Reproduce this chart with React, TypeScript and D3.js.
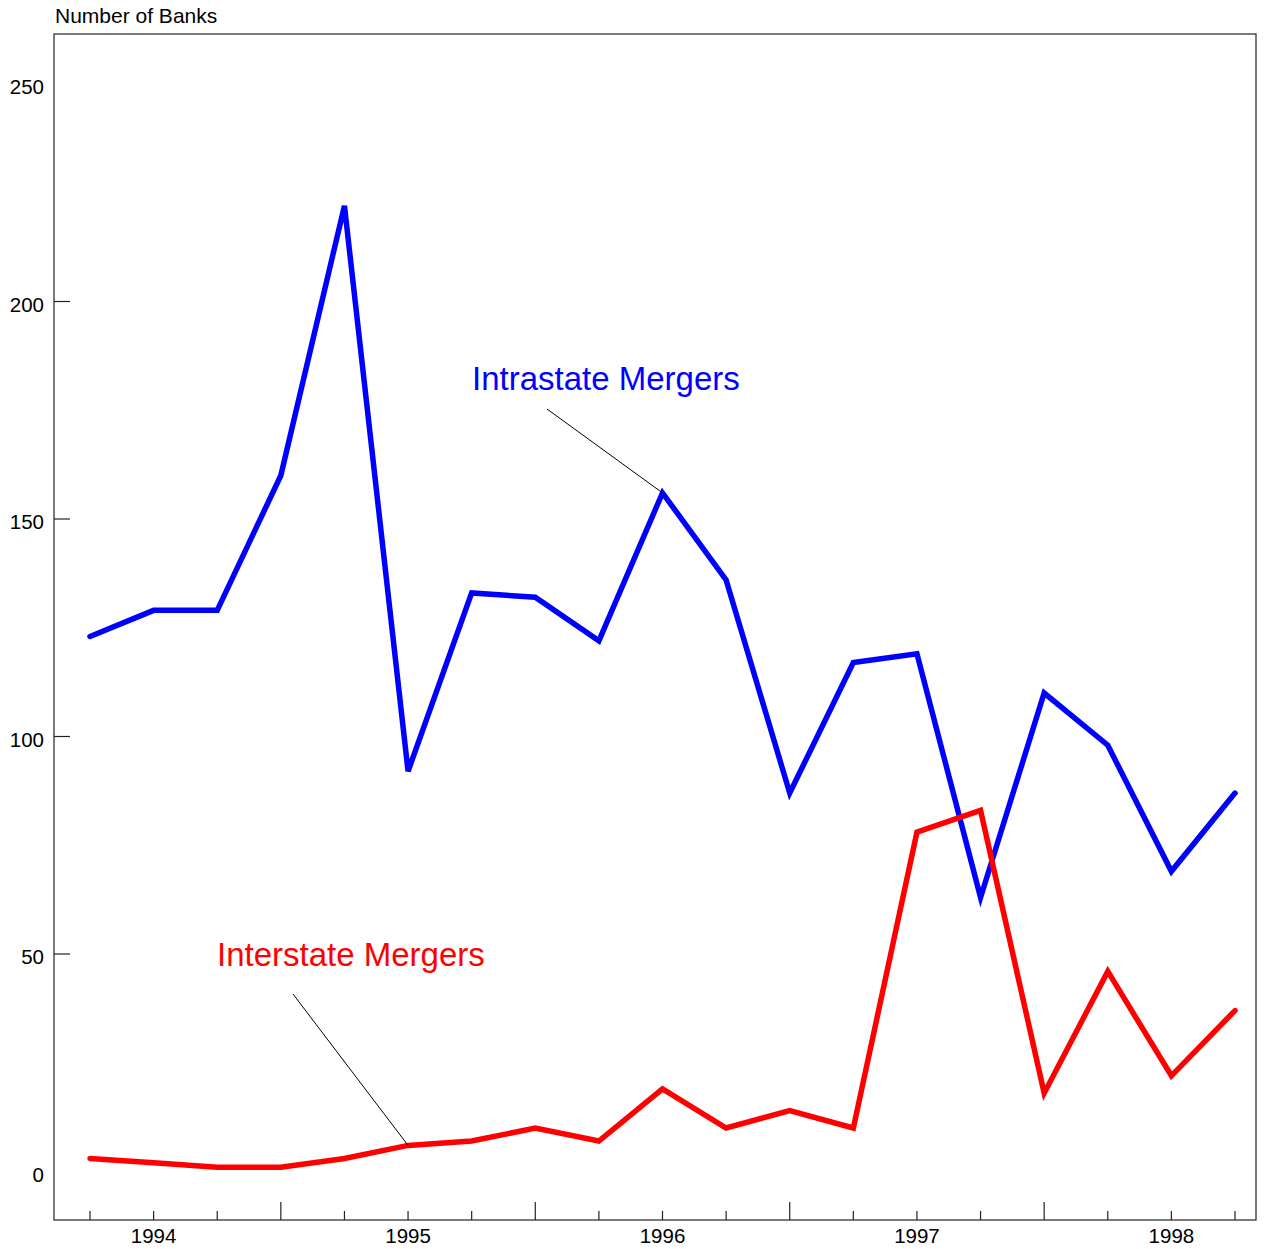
import * as d3 from 'd3';

// quarterly bank merger counts
const quarters = [
  '93Q4', '94Q1', '94Q2', '94Q3', '94Q4', '95Q1', '95Q2', '95Q3', '95Q4', '96Q1',
  '96Q2', '96Q3', '96Q4', '97Q1', '97Q2', '97Q3', '97Q4', '98Q1', '98Q2',
];
const intrastate = [123, 129, 129, 160, 222, 92, 133, 132, 122, 156, 136, 87, 117, 119, 63, 110, 98, 69, 87];
const interstate = [3, 2, 1, 1, 3, 6, 7, 10, 7, 19, 10, 14, 10, 78, 83, 18, 46, 22, 37];
const yearLabels = ['1994', '1995', '1996', '1997', '1998'];
const yearLabelIdx = [1, 5, 9, 13, 17];
const yearBreakIdx = [3, 7, 11, 15];
const yTicks = [0, 50, 100, 150, 200, 250];
const yTickMarks = [50, 100, 150, 200];

const W = 1265;
const H = 1249;
const frame = { left: 54, top: 34, right: 1256, bottom: 1220 };
const font = 'Arial, "Liberation Sans", Helvetica, sans-serif';

const App = () => {
  const x = d3.scaleLinear().domain([0, quarters.length - 1]).range([90, 1235]);
  const y = d3.scaleLinear().domain([0, 250]).range([1171.5, 84]);

  const line = d3.line<number>()
    .x((_, i) => x(i))
    .y(d => y(d));

  // annotation anchors sit on the data points
  const blueAnchor = { x: x(9), y: y(intrastate[9]) };
  const redAnchor = { x: x(5), y: y(interstate[5]) };

  return (
    <svg width={W} height={H} style={{ position: 'absolute', left: 0, top: 0, background: '#fff' }}>
      <rect
        x={frame.left} y={frame.top}
        width={frame.right - frame.left} height={frame.bottom - frame.top}
        fill="none" stroke="#222" strokeWidth={1.2}
      />

      <text x={55} y={23} fontFamily={font} fontSize={21} fill="#000">Number of Banks</text>

      {/* y axis */}
      {yTicks.map(t => (
        <text key={t} x={44} y={y(t) + 5} textAnchor="end" dominantBaseline="middle"
          fontFamily={font} fontSize={20.5} fill="#000">{t}</text>
      ))}
      {yTickMarks.map(t => (
        <line key={t} x1={frame.left} x2={frame.left + 16} y1={y(t)} y2={y(t)} stroke="#222" strokeWidth={1.2} />
      ))}

      {/* x axis */}
      {quarters.map((q, i) => {
        const long = yearBreakIdx.includes(i);
        return (
          <line key={q} x1={x(i)} x2={x(i)} y1={frame.bottom} y2={frame.bottom - (long ? 18 : 9)}
            stroke="#222" strokeWidth={1.2} />
        );
      })}
      {yearLabels.map((lab, k) => (
        <text key={lab} x={x(yearLabelIdx[k])} y={1242.5} textAnchor="middle"
          fontFamily={font} fontSize={20.5} fill="#000">{lab}</text>
      ))}

      {/* series */}
      <path d={line(intrastate) || ''} fill="none" stroke="#0000ff" strokeWidth={5.5}
        strokeLinecap="round" strokeLinejoin="miter" />
      <path d={line(interstate) || ''} fill="none" stroke="#ff0000" strokeWidth={5.5}
        strokeLinecap="round" strokeLinejoin="miter" />

      {/* annotations */}
      <text x={472} y={390} fontFamily={font} fontSize={33} fill="#0000ff">Intrastate Mergers</text>
      <line x1={547} y1={409} x2={blueAnchor.x} y2={blueAnchor.y} stroke="#000" strokeWidth={1} />

      <text x={217} y={966} fontFamily={font} fontSize={33} fill="#ff0000">Interstate Mergers</text>
      <line x1={293} y1={994} x2={redAnchor.x} y2={redAnchor.y} stroke="#000" strokeWidth={1} />
    </svg>
  );
};

export default App;
